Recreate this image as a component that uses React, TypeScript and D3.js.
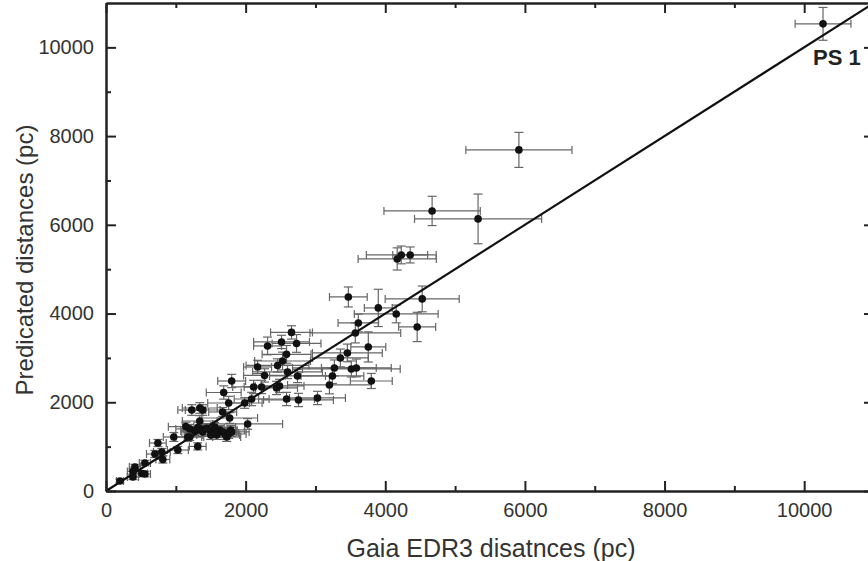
import React, { useRef, useEffect } from 'react';
import * as d3 from 'd3';

// Gaia EDR3 distance (pc), its error, predicted distance (pc), its error
const gaiaDist = [
  10270, 5914, 4671, 5329, 4229, 4357, 4171, 3471, 4529, 3900,
  4157, 4457, 3614, 3571, 3757, 3457, 3357, 3271, 3514, 3586,
  3243, 3200, 3800, 3029, 2757, 2586, 2657, 2514, 2729, 2314,
  2586, 2529, 2457, 2171, 2600, 2271, 2743, 1800, 2486, 2443,
  2114, 2229, 1686, 1757, 1986, 2086, 2029, 1771, 1343, 1229,
  1386, 1671, 1143, 971, 1171, 1314, 1343, 1271, 1386, 1557,
  1629, 1700, 1800, 1586, 1729, 1486, 1314, 1200, 1029, 743,
  700, 800, 814, 414, 386, 386, 514, 557, 557, 200,
  1614, 1786, 1714, 1571, 1357, 1443, 1500, 1671, 1757, 1200,
];
const gaiaErr = [
  400, 760, 690, 910, 500, 250, 560, 270, 530, 200,
  600, 265, 290, 650, 250, 500, 400, 600, 700, 500,
  450, 600, 300, 400, 500, 400, 300, 400, 350, 200,
  350, 400, 450, 200, 500, 300, 400, 200, 350, 300,
  300, 250, 250, 300, 250, 250, 500, 400, 250, 200,
  250, 200, 250, 150, 200, 200, 250, 200, 300, 300,
  250, 200, 250, 200, 200, 250, 120, 200, 150, 120,
  120, 120, 100, 80, 80, 80, 80, 80, 80, 50,
  250, 200, 200, 250, 200, 250, 200, 200, 250, 200,
];
const predDist = [
  10530, 7689, 6313, 6133, 5321, 5321, 5231, 4374, 4330, 4127,
  3991, 3698, 3788, 3563, 3247, 3112, 2999, 2774, 2751, 2774,
  2593, 2390, 2480, 2097, 2052, 2074, 3575, 3360, 3326, 3270,
  3080, 2930, 2830, 2796, 2683, 2605, 2593, 2480, 2368, 2323,
  2345, 2345, 2220, 1984, 1984, 2074, 1511, 1646, 1871, 1826,
  1826, 1781, 1450, 1218, 1218, 1430, 1578, 1353, 1331, 1443,
  1376, 1308, 1331, 1263, 1218, 1376, 1005, 1218, 924, 1082,
  834, 879, 710, 541, 440, 316, 395, 383, 631, 225,
  1353, 1376, 1263, 1331, 1400, 1420, 1262, 1330, 1285, 1400,
];
const predErr = [
  370, 395, 330, 560, 200, 180, 250, 225, 290, 420,
  200, 330, 200, 225, 340, 200, 200, 180, 180, 200,
  170, 200, 170, 150, 150, 150, 150, 150, 200, 200,
  200, 200, 150, 150, 150, 150, 150, 150, 150, 150,
  150, 150, 150, 150, 120, 150, 120, 120, 120, 120,
  120, 100, 100, 100, 100, 120, 120, 100, 100, 100,
  100, 100, 100, 100, 100, 100, 80, 80, 80, 80,
  80, 80, 80, 60, 60, 60, 60, 60, 60, 40,
  100, 100, 100, 100, 100, 100, 100, 100, 100, 100,
];

const majorTicks = [0, 2000, 4000, 6000, 8000, 10000];
const minorTicks = [1000, 3000, 5000, 7000, 9000];
const xLabel = 'Gaia EDR3 disatnces (pc)';
const yLabel = 'Predicated distances (pc)';
const pointLabel = 'PS 1';

const Chart = () => {
  const svgRef = useRef<SVGSVGElement>(null);

  useEffect(() => {
    const svg = d3.select(svgRef.current);
    svg.selectAll('*').remove();

    const width = 868;
    const height = 561;
    const left = 106, right = 874, top = 3, bottom = 491;
    const font = '"Liberation Sans", Arial, sans-serif';

    svg.attr('width', width).attr('height', height);
    svg.append('rect').attr('width', width).attr('height', height).attr('fill', '#fff');

    const x = d3.scaleLinear().domain([0, 11000]).range([left, right]);
    const y = d3.scaleLinear().domain([0, 11000]).range([bottom, top]);

    const data = gaiaDist.map((d, i) => ({
      gx: d, gxe: gaiaErr[i], py: predDist[i], pye: predErr[i],
    }));

    const plot = svg.append('g');

    // error bars
    const bars = plot.append('g').attr('stroke', '#666').attr('stroke-width', 1.2).attr('fill', 'none');
    data.forEach((d) => {
      const cx = x(d.gx), cy = y(d.py);
      const x0 = x(d.gx - d.gxe), x1 = x(d.gx + d.gxe);
      const y0 = y(d.py - d.pye), y1 = y(d.py + d.pye);
      bars.append('line').attr('x1', x0).attr('x2', x1).attr('y1', cy).attr('y2', cy);
      bars.append('line').attr('x1', x0).attr('x2', x0).attr('y1', cy - 4).attr('y2', cy + 4);
      bars.append('line').attr('x1', x1).attr('x2', x1).attr('y1', cy - 4).attr('y2', cy + 4);
      bars.append('line').attr('x1', cx).attr('x2', cx).attr('y1', y0).attr('y2', y1);
      bars.append('line').attr('x1', cx - 4.5).attr('x2', cx + 4.5).attr('y1', y0).attr('y2', y0);
      bars.append('line').attr('x1', cx - 4.5).attr('x2', cx + 4.5).attr('y1', y1).attr('y2', y1);
    });

    // 1:1 line
    const line = d3.line<number>().x((d) => x(d)).y((d) => y(d));
    plot.append('path')
      .attr('d', line([0, 11000]))
      .attr('stroke', '#111')
      .attr('stroke-width', 2.2)
      .attr('fill', 'none');

    plot.selectAll('circle')
      .data(data)
      .enter()
      .append('circle')
      .attr('cx', (d) => x(d.gx))
      .attr('cy', (d) => y(d.py))
      .attr('r', 3.8)
      .attr('fill', '#111');

    // axes with inward ticks
    const styleAxis = (g: any) => {
      g.select('.domain').attr('stroke', '#222').attr('stroke-width', 2);
      g.selectAll('.tick line').attr('stroke', '#222').attr('stroke-width', 2);
      g.selectAll('.tick text')
        .attr('fill', '#333')
        .style('font-family', font)
        .style('font-size', '20px');
    };

    const addAxis = (axisFn: any, scale: any, transform: string, labels: boolean) => {
      svg.append('g')
        .attr('transform', transform)
        .call(axisFn(scale).tickValues(minorTicks).tickSizeInner(-5).tickSizeOuter(0).tickFormat(() => ''))
        .call(styleAxis);
      svg.append('g')
        .attr('transform', transform)
        .call(
          axisFn(scale)
            .tickValues(majorTicks)
            .tickSizeInner(-10)
            .tickSizeOuter(0)
            .tickPadding(12)
            .tickFormat(labels ? d3.format('d') : () => '')
        )
        .call(styleAxis);
    };

    addAxis(d3.axisBottom, x, `translate(0, ${bottom})`, true);
    addAxis(d3.axisTop, x, `translate(0, ${top})`, false);
    addAxis(d3.axisLeft, y, `translate(${left}, 0)`, true);
    addAxis(d3.axisRight, y, `translate(${right}, 0)`, false);

    // axis titles
    svg.append('text')
      .attr('x', 491)
      .attr('y', 557)
      .attr('text-anchor', 'middle')
      .attr('fill', '#333')
      .style('font-family', font)
      .style('font-size', '25px')
      .text(xLabel);

    svg.append('text')
      .attr('transform', `translate(33, 260) rotate(-90)`)
      .attr('text-anchor', 'middle')
      .attr('fill', '#333')
      .style('font-family', font)
      .style('font-size', '24px')
      .text(yLabel);

    svg.append('text')
      .attr('x', 813)
      .attr('y', 65)
      .attr('fill', '#222')
      .style('font-family', font)
      .style('font-size', '22px')
      .style('font-weight', 'bold')
      .text(pointLabel);
  }, []);

  return <svg ref={svgRef} style={{ position: 'absolute', left: 0, top: 0 }}></svg>;
};

export default function App() {
  return <Chart />;
}
